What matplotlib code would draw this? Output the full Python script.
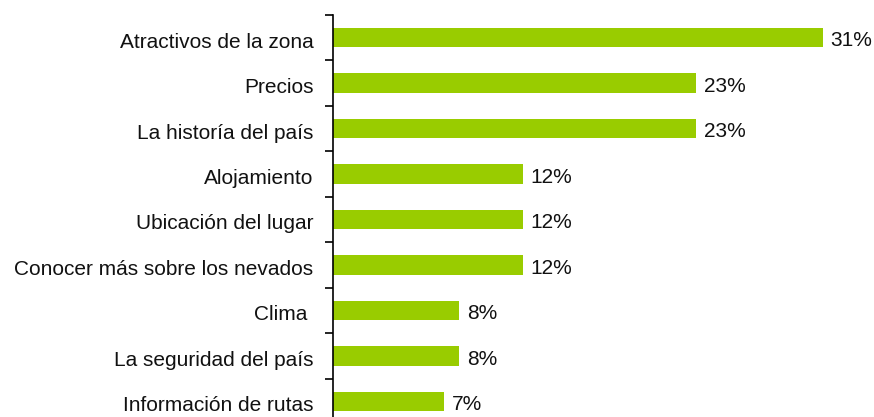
import matplotlib.pyplot as plt
import matplotlib.transforms as mtransforms
import numpy as np

plt.rcParams['font.family'] = ['Liberation Sans', 'DejaVu Sans']

categorias = ['Atractivos de la zona', 'Precios', 'La historía del país', 'Alojamiento',
              'Ubicación del lugar', 'Conocer más sobre los nevados', 'Clima ',
              'La seguridad del país', 'Información de rutas']
valores = [31, 23, 23, 12, 12, 12, 8, 8, 7]
etiquetas = ['31%', '23%', '23%', '12%', '12%', '12%', '8%', '8%', '7%']

W, H = 874, 417
fig = plt.figure(figsize=(W / 100, H / 100), dpi=100)
# ejes en pixeles: spine en x=333, arriba en y=15, abajo fuera de la imagen
ax = fig.add_axes([333 / W, 1 - 424 / H, 534 / W, (424 - 15) / H])

y = np.arange(len(categorias))
ax.barh(y, valores, height=0.43, color='#99CC00')
for yi, v, t in zip(y, valores, etiquetas):
    ax.text(v + 0.5, yi + 0.07, t, va='center', ha='left', fontsize=15, color='#111111')

ax.set_ylim(len(categorias) - 0.5, -0.5)
ax.set_xlim(0, 33.8)
ax.set_yticks(y)
ax.set_yticklabels(categorias, fontsize=15, color='#111111')
ax.tick_params(axis='y', which='major', length=0, pad=14)
bajar = mtransforms.ScaledTranslation(0, -2.5 / 100, fig.dpi_scale_trans)
for lab in ax.get_yticklabels():
    lab.set_transform(lab.get_transform() + bajar)
ax.set_yticks(np.arange(-0.5, len(categorias), 1), minor=True)
ax.tick_params(axis='y', which='minor', length=6, width=1.2, direction='out')
ax.set_xticks([])
for s in ['top', 'right', 'bottom']:
    ax.spines[s].set_visible(False)
ax.spines['left'].set_linewidth(1.2)

fig.savefig('out.png', dpi=100)
